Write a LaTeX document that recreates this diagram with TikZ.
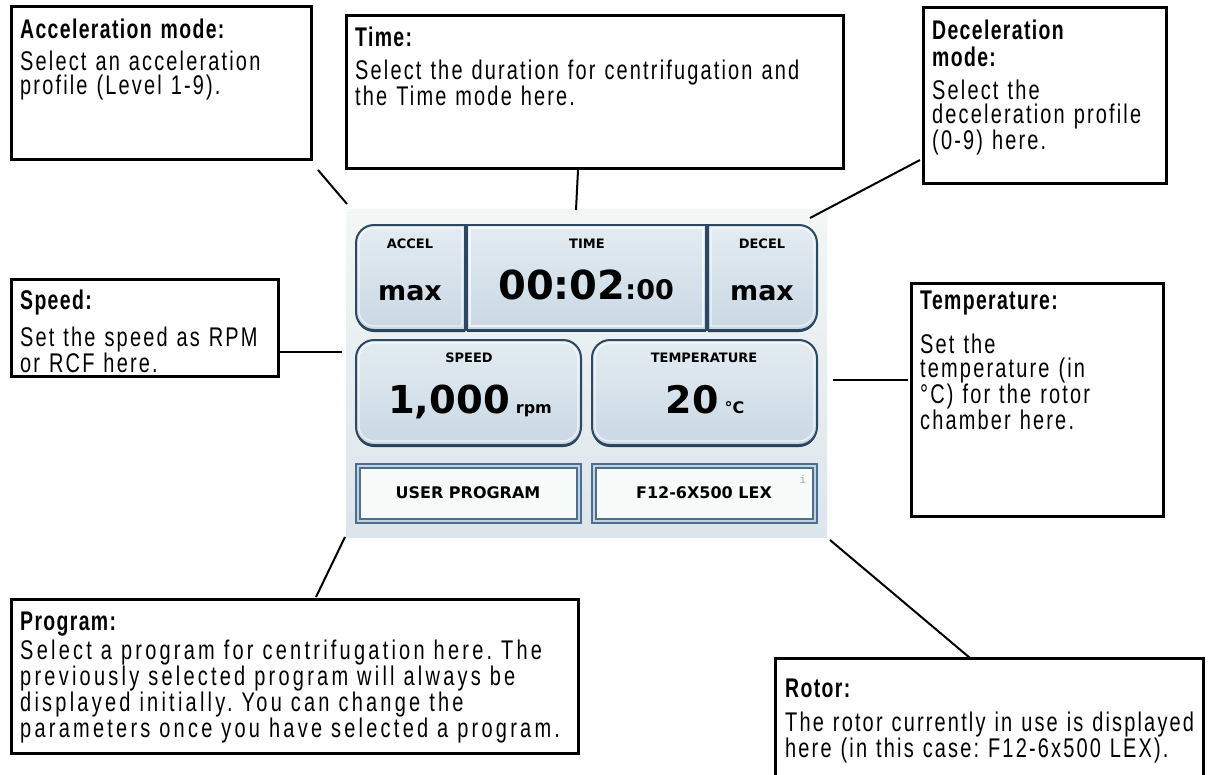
\documentclass[tikz,border=0pt]{standalone}
\usepackage{fontspec}
\setmainfont{Liberation Sans}
\newfontfamily\callfont[FakeStretch=0.74,LetterSpace=8]{Liberation Sans}
\newfontfamily\callwide[FakeStretch=0.74,LetterSpace=12]{Liberation Sans}
\newfontfamily\titlefont[FakeStretch=0.72,LetterSpace=5]{Liberation Sans}
\newfontfamily\scrfont{DejaVu Sans}
\newfontfamily\scrmono{DejaVu Sans Mono}
\definecolor{panelTop}{HTML}{F3F7F4}
\definecolor{panelBot}{HTML}{DCE5EC}
\definecolor{btnTop}{HTML}{E4ECF2}
\definecolor{btnBot}{HTML}{C9D8E4}
\definecolor{btnEdge}{HTML}{2E4862}
\definecolor{lowEdge}{HTML}{4C6F8F}
\definecolor{lowGap}{HTML}{C3D3E0}
\definecolor{lowFill}{HTML}{F6FAF8}
\frenchspacing
\begin{document}
\begin{tikzpicture}[x=1pt,y=-1pt,
  callout/.style={draw=black, line width=3pt, fill=white, inner sep=0pt},
  ttl/.style={anchor=base west, inner sep=0pt, text width=400pt, align=left,
    font=\titlefont\bfseries\fontsize{27}{27}\selectfont},
  body/.style={anchor=base west, inner sep=0pt, text width=600pt, align=left,
    font=\callfont\fontsize{27}{24.5}\selectfont},
  conn/.style={draw=black, line width=2pt},
  btn/.style={top color=btnTop, bottom color=btnBot, draw=btnEdge, line width=2pt},
  btnshadow/.style={fill=btnEdge!85!black},
  btnhi/.style={draw=white, opacity=0.7, line width=1.2pt},
  lbl/.style={font=\scrfont\bfseries\fontsize{13}{13}\selectfont, anchor=base, inner sep=0pt},
  big/.style={font=\scrfont\bfseries, anchor=base, inner sep=0pt},
  lowtxt/.style={font=\scrfont\bfseries\fontsize{16}{16}\selectfont, anchor=base, inner sep=0pt}
]
\useasboundingbox (0,0) rectangle (1212,774);
\fill[white] (0,0) rectangle (1212,774);

% ---------- screen panel ----------
\shade[top color=panelTop, bottom color=panelBot] (346,209) rectangle (827,537);
\coordinate (pTL) at (347,204);
\coordinate (pT) at (576,210);
\coordinate (pTR) at (810,218);
\coordinate (pL) at (342,352);
\coordinate (pR) at (833,380);
\coordinate (pBL) at (345,537);
\coordinate (pBR) at (830,540);

% top row buttons
% ACCEL (rounded left)
\fill[btnshadow] (465,227) [rounded corners=18pt] -- (356,227) -- (356,332) [sharp corners] -- (465,332) -- cycle;
\path[btn] (465,225) [rounded corners=18pt] -- (356,225) -- (356,330) [sharp corners] -- (465,330) -- cycle;
\draw[btnhi] (462,228) [rounded corners=15pt] -- (359,228) -- (359,326) [sharp corners] -- (462,326) -- cycle;
% TIME
\fill[btnshadow] (467,227) rectangle (706,332);
\path[btn] (467,225) rectangle (706,330);
\draw[btnhi] (470,228) rectangle (703,326);
% DECEL (rounded right)
\fill[btnshadow] (708,227) [rounded corners=18pt] -- (817,227) -- (817,332) [sharp corners] -- (708,332) -- cycle;
\path[btn] (708,225) [rounded corners=18pt] -- (817,225) -- (817,330) [sharp corners] -- (708,330) -- cycle;
\draw[btnhi] (711,228) [rounded corners=15pt] -- (814,228) -- (814,326) [sharp corners] -- (711,326) -- cycle;
% SPEED
\fill[btnshadow, rounded corners=18pt] (356,342) rectangle (581,447);
\path[btn, rounded corners=18pt] (356,340) rectangle (581,445);
\draw[btnhi, rounded corners=15pt] (359,343) rectangle (578,441);
% TEMPERATURE
\fill[btnshadow, rounded corners=18pt] (592,342) rectangle (817,447);
\path[btn, rounded corners=18pt] (592,340) rectangle (817,445);
\draw[btnhi, rounded corners=15pt] (595,343) rectangle (814,441);
% lower buttons
\draw[fill=lowGap, draw=lowEdge, line width=1.8pt] (356,464) rectangle (581,523);
\draw[fill=lowFill, draw=lowEdge, line width=1.2pt] (360,468) rectangle (577,519);
\draw[fill=lowGap, draw=lowEdge, line width=1.8pt] (592,464) rectangle (817,523);
\draw[fill=lowFill, draw=lowEdge, line width=1.2pt] (596,468) rectangle (813,519);

% screen texts
\node[lbl] (accellbl) at (410,248) {ACCEL};
\node[big, font=\scrfont\bfseries\fontsize{27}{27}\selectfont] (accelval) at (410,300) {max};
\node[lbl] (timelbl) at (587,248) {TIME};
\node[big] (timeval) at (586,299) {{\fontsize{40}{40}\selectfont 00:02}{\fontsize{27}{27}\selectfont :00}};
\node[lbl] (decellbl) at (762,248) {DECEL};
\node[big, font=\scrfont\bfseries\fontsize{27}{27}\selectfont] (decelval) at (762,300) {max};
\node[lbl] (speedlbl) at (469,362) {SPEED};
\node[big] (speedval) at (470,413) {{\fontsize{38.5}{38.5}\selectfont 1,000}\hspace{6pt}{\fontsize{16}{16}\selectfont rpm}};
\node[lbl] (templbl) at (704,362) {TEMPERATURE};
\node[big] (tempval) at (705,413) {{\fontsize{38}{38}\selectfont 20}\hspace{6pt}{\fontsize{16}{16}\selectfont °C}};
\node[lowtxt] (proglbl) at (468,498) {USER PROGRAM};
\node[lowtxt] (rotorlbl) at (704,498) {F12-6X500 LEX};
\node[font=\scrmono\fontsize{11}{11}\selectfont, text=gray!70, inner sep=0pt] (info) at (803,479) {i};

% ---------- callout boxes ----------
\node[callout, minimum width=300pt, minimum height=153pt, anchor=north west] (accelbox) at (10,5) {};
\node[ttl] (accelttl) at (20,38) {Acceleration mode:};
\node[body] (accelbody) at (20,70) {Select an acceleration\\profile (Level 1-9).};

\node[callout, minimum width=497pt, minimum height=153pt, anchor=north west] (timebox) at (345,14) {};
\node[ttl] (timettl) at (355,46) {Time:};
\node[body] (timebody) at (355,79) {Select the duration for centrifugation and\\the Time mode here.};

\node[callout, minimum width=243pt, minimum height=176pt, anchor=north west] (decelbox) at (922,6) {};
\node[ttl] (decelttl) at (932,39) {Deceleration\\mode:};
\node[body] (decelbody) at (932,99) {Select the\\deceleration profile\\(0-9) here.};

\node[callout, minimum width=267pt, minimum height=97pt, anchor=north west] (speedbox) at (10,278) {};
\node[ttl] (speedttl) at (20,309) {Speed:};
\node[body] (speedbody) at (20,346) {Set the speed as RPM\\or RCF here.};

\node[callout, minimum width=252pt, minimum height=233pt, anchor=north west] (tempbox) at (910,282) {};
\node[ttl] (tempttl) at (920,309) {Temperature:};
\node[body] (tempbody) at (920,353) {Set the\\temperature (in\\°C) for the rotor\\chamber here.};

\node[callout, minimum width=567pt, minimum height=154pt, anchor=north west] (progbox) at (10,598) {};
\node[ttl] (progttl) at (20,630) {Program:};
\node[body, font=\callwide\fontsize{27}{24.5}\selectfont] (progbody) at (20,659) {Select a program for centrifugation here. The\\previously selected program will always be\\displayed initially. You can change the\\parameters once you have selected a program.};

\draw[line width=3pt] (775,776) |- (1203,658) -- (1203,776);
\coordinate (rotortop) at (970,658);
\node[ttl] (rotorttl) at (785,697) {Rotor:};
\node[body] (rotorbody) at (785,731) {The rotor currently in use is displayed\\here (in this case: F12-6x500 LEX).};

% ---------- connectors ----------
\coordinate (accelc) at (318,170);
\coordinate (timec) at (578,170);
\coordinate (decelc) at (920,160);
\coordinate (speedc) at (279,352);
\coordinate (tempc) at (908,380);
\coordinate (progc) at (316,597);
\draw[conn] (accelc) -- (pTL);
\draw[conn] (timec) -- (pT);
\draw[conn] (decelc) -- (pTR);
\draw[conn] (speedc) -- (pL);
\draw[conn] (tempc) -- (pR);
\draw[conn] (progc) -- (pBL);
\draw[conn] (rotortop) -- (pBR);
\end{tikzpicture}
\end{document}
